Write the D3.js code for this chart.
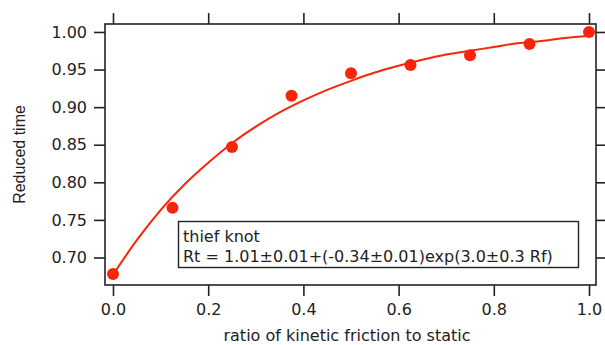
<!DOCTYPE html>
<html>
<head>
<meta charset="utf-8">
<script src="https://cdn.jsdelivr.net/npm/d3@7"></script>
<style>
	body { margin: 0; background: #fff; }
	svg { display: block; }
	text { font-family: "DejaVu Sans", sans-serif; fill: #222; }
</style>
</head>
<body>
<div id="chart"></div>
<script>
"use strict";

const width = 605, height = 345;

//---- Data
const ratioValues = [0, 0.125, 0.25, 0.375, 0.5, 0.625, 0.75, 0.875, 1.0];
const reducedTime = [0.678, 0.766, 0.847, 0.915, 0.945, 0.956, 0.969, 0.984, 1.0];

const fitRatio = [0, 0.05, 0.1, 0.15, 0.2, 0.25, 0.3, 0.35, 0.4, 0.45, 0.5,
	0.55, 0.6, 0.65, 0.7, 0.75, 0.8, 0.85, 0.9, 0.95, 1.0];
const fitTime = [0.677, 0.723, 0.763, 0.797, 0.826, 0.852, 0.874, 0.893, 0.909, 0.923, 0.935,
	0.946, 0.955, 0.963, 0.970, 0.975, 0.980, 0.985, 0.988, 0.992, 0.995];

const xTicks = [0, 0.2, 0.4, 0.6, 0.8, 1.0];
const yTicks = [0.70, 0.75, 0.80, 0.85, 0.90, 0.95, 1.00];

const legendLines = ['thief knot', 'Rt = 1.01\u00b10.01+(-0.34\u00b10.01)exp(3.0\u00b10.3 Rf)'];

const red = '#f8250b';

//---- Frame
const frame = { left: 105, right: 596, top: 24, bottom: 285 };

const x = d3.scaleLinear()
	.domain([-0.0168, 1.0147])
	.range([frame.left, frame.right]);

const y = d3.scaleLinear()
	.domain([0.6634, 1.0106])
	.range([frame.bottom, frame.top]);

let svg = d3.select('#chart').append('svg')
	.attr('width', width)
	.attr('height', height);

svg.append('rect')
	.attr('x', frame.left)
	.attr('y', frame.top)
	.attr('width', frame.right - frame.left)
	.attr('height', frame.bottom - frame.top)
	.attr('fill', 'none')
	.attr('stroke', '#222')
	.attr('stroke-width', 1.6);

//---- Axes (ticks outside on all four sides)
const tickLen = 11;
const fmtX = d3.format('.1f'), fmtY = d3.format('.2f');

function styleAxis(g) {
	g.select('.domain').remove();
	g.selectAll('.tick line').attr('stroke', '#222').attr('stroke-width', 1.6);
	g.selectAll('.tick text').style('font-size', '16px').attr('fill', '#222');
}

svg.append('g')
	.attr('transform', `translate(0,${frame.bottom})`)
	.call(d3.axisBottom(x).tickValues(xTicks).tickFormat(fmtX).tickSize(tickLen).tickPadding(8))
	.call(styleAxis);

svg.append('g')
	.attr('transform', `translate(0,${frame.top})`)
	.call(d3.axisTop(x).tickValues(xTicks).tickFormat('').tickSize(tickLen))
	.call(styleAxis);

svg.append('g')
	.attr('transform', `translate(${frame.left},0)`)
	.call(d3.axisLeft(y).tickValues(yTicks).tickFormat(fmtY).tickSize(tickLen).tickPadding(7))
	.call(styleAxis);

svg.append('g')
	.attr('transform', `translate(${frame.right},0)`)
	.call(d3.axisRight(y).tickValues(yTicks).tickFormat('').tickSize(tickLen))
	.call(styleAxis);

//---- Axis titles
svg.append('text')
	.attr('x', 347)
	.attr('y', 341)
	.attr('text-anchor', 'middle')
	.style('font-size', '16px')
	.text('ratio of kinetic friction to static');

svg.append('text')
	.attr('transform', `translate(25,${(frame.top + frame.bottom) / 2}) rotate(-90)`)
	.attr('text-anchor', 'middle')
	.style('font-family', '"Liberation Sans", Arial, sans-serif')
	.style('font-size', '16px')
	.text('Reduced time');

//---- Fit curve
const fitData = fitRatio.map((r, i) => ({ r: r, t: fitTime[i] }));

svg.append('path')
	.datum(fitData)
	.attr('fill', 'none')
	.attr('stroke', red)
	.attr('stroke-width', 2)
	.attr('d', d3.line().x(d => x(d.r)).y(d => y(d.t)).curve(d3.curveMonotoneX));

//---- Points
svg.selectAll('.point')
	.data(ratioValues.map((r, i) => ({ r: r, t: reducedTime[i] })))
	.join('circle')
	.classed('point', true)
	.attr('cx', d => x(d.r))
	.attr('cy', d => y(d.t))
	.attr('r', 6)
	.attr('fill', red);

//---- Legend box
let legend = svg.append('g');

legend.append('rect')
	.attr('x', 178.5)
	.attr('y', 221.5)
	.attr('width', 400)
	.attr('height', 46)
	.attr('fill', '#fff')
	.attr('stroke', '#222')
	.attr('stroke-width', 1.4);

legend.selectAll('text')
	.data(legendLines)
	.join('text')
	.attr('x', 183)
	.attr('y', (d, i) => 241.5 + i * 20)
	.style('font-size', '16px')
	.text(d => d);
</script>
</body>
</html>
